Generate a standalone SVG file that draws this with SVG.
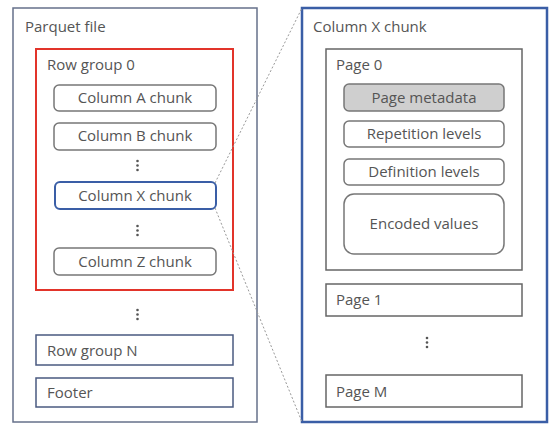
<svg xmlns="http://www.w3.org/2000/svg" width="558" height="432" viewBox="0 0 558 432">
<style>
text{font-family:"Open Sans","Noto Sans","Liberation Sans",sans-serif;fill:#555;font-size:15px}
.c{text-anchor:middle}
.chunk{fill:#fff;stroke:#777;stroke-width:1.5}
.box{fill:#fff;stroke:#666;stroke-width:1.5}
.dot{fill:#555}
</style>
<rect width="558" height="432" fill="#fff"/>
<g id="parquet-file">
<rect x="13" y="8" width="244" height="414" fill="#fff" stroke="#66708a" stroke-width="1.5"/>
<text x="25" y="32">Parquet file</text>
</g>
<g id="row-group-0">
<rect x="36" y="49" width="197" height="241" fill="#fff" stroke="#e2342a" stroke-width="2"/>
<text x="47" y="70">Row group 0</text>
</g>
<g id="col-a"><rect class="chunk" x="54" y="85" width="162" height="26" rx="5"/><text class="c" x="135" y="103">Column A chunk</text></g>
<g id="col-b"><rect class="chunk" x="54" y="123" width="162" height="27" rx="5"/><text class="c" x="135" y="141">Column B chunk</text></g>
<g id="dots1"><circle class="dot" cx="137.5" cy="161" r="1.3"/><circle class="dot" cx="137.5" cy="165.5" r="1.3"/><circle class="dot" cx="137.5" cy="170" r="1.3"/></g>
<g id="col-x"><rect x="55" y="182" width="161" height="27" rx="5" fill="#fff" stroke="#3a5ea6" stroke-width="2"/><text class="c" x="135" y="201">Column X chunk</text></g>
<g id="dots2"><circle class="dot" cx="137.5" cy="226" r="1.3"/><circle class="dot" cx="137.5" cy="230.5" r="1.3"/><circle class="dot" cx="137.5" cy="235" r="1.3"/></g>
<g id="col-z"><rect class="chunk" x="54" y="248" width="162" height="27" rx="5"/><text class="c" x="135" y="267">Column Z chunk</text></g>
<g id="dots3"><circle class="dot" cx="137.5" cy="310" r="1.3"/><circle class="dot" cx="137.5" cy="314.5" r="1.3"/><circle class="dot" cx="137.5" cy="319" r="1.3"/></g>
<g id="row-group-n"><rect x="36" y="335" width="197" height="30" fill="#fff" stroke="#4a5a80" stroke-width="1.5"/><text x="47" y="356">Row group N</text></g>
<g id="footer"><rect x="36" y="378" width="197" height="29" fill="#fff" stroke="#4a5a80" stroke-width="1.5"/><text x="47" y="398">Footer</text></g>

<g id="column-x-chunk">
<rect x="302" y="8" width="245" height="414" fill="#fff" stroke="#3a5ea6" stroke-width="2.5"/>
<text x="313" y="32">Column X chunk</text>
</g>
<g id="page-0">
<rect class="box" x="326" y="49" width="196" height="221"/>
<text x="336" y="70">Page 0</text>
</g>
<g id="page-metadata"><rect x="344" y="84" width="160" height="27" rx="5" fill="#cfcfcf" stroke="#777" stroke-width="1.5"/><text class="c" x="424" y="103">Page metadata</text></g>
<g id="rep-levels"><rect class="chunk" x="344" y="121" width="160" height="26" rx="5"/><text class="c" x="424" y="139">Repetition levels</text></g>
<g id="def-levels"><rect class="chunk" x="344" y="159" width="160" height="26" rx="5"/><text class="c" x="424" y="177">Definition levels</text></g>
<g id="encoded-values"><rect class="chunk" x="344" y="194" width="160" height="60" rx="10"/><text class="c" x="424" y="229">Encoded values</text></g>
<g id="page-1"><rect class="box" x="326" y="284" width="196" height="32"/><text x="336" y="305">Page 1</text></g>
<g id="dots4"><circle class="dot" cx="427" cy="338" r="1.3"/><circle class="dot" cx="427" cy="342.5" r="1.3"/><circle class="dot" cx="427" cy="347" r="1.3"/></g>
<g id="page-m"><rect class="box" x="326" y="375" width="196" height="32"/><text x="336" y="397">Page M</text></g>

<g id="connectors" stroke="#999" stroke-width="1" stroke-dasharray="2,2" fill="none">
<line x1="215" y1="183" x2="302" y2="8"/>
<line x1="215" y1="208" x2="302" y2="422"/>
</g>
</svg>
